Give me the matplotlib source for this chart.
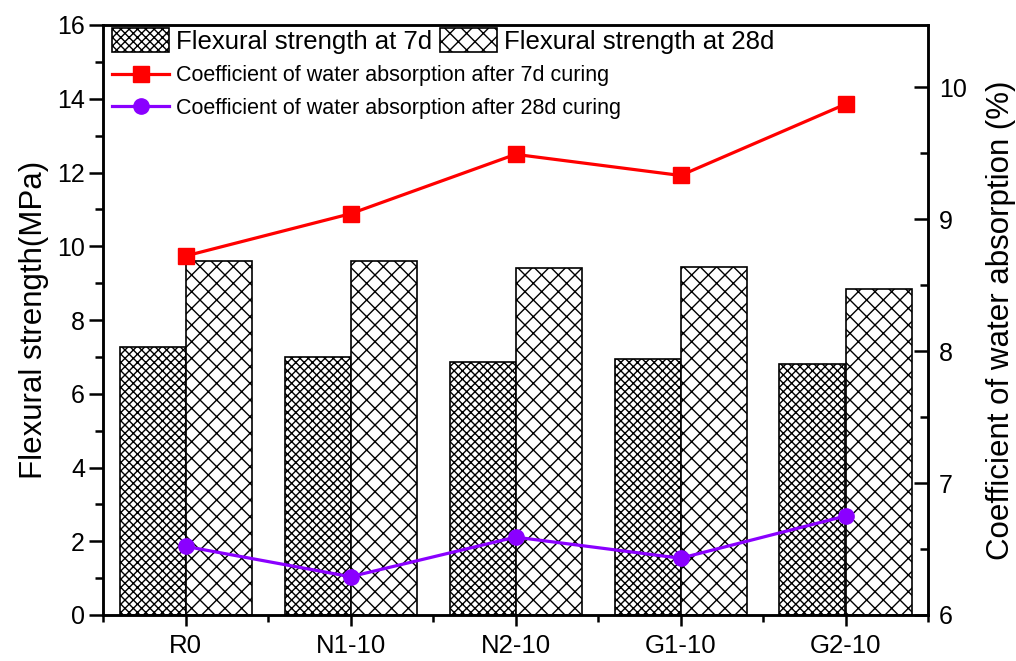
import matplotlib
matplotlib.use("Agg")
import matplotlib.pyplot as plt
import numpy as np
from matplotlib.ticker import MultipleLocator
from matplotlib.lines import Line2D
from matplotlib.patches import Patch

plt.rcParams['font.family'] = ['Liberation Sans', 'DejaVu Sans']
plt.rcParams['hatch.linewidth'] = 1.0

# ---------- data ----------
samples = ["R0", "N1-10", "N2-10", "G1-10", "G2-10"]
flex_7d = [7.26, 7.00, 6.86, 6.93, 6.82]
flex_28d = [9.61, 9.59, 9.40, 9.45, 8.83]
absorb_7d = [8.72, 9.04, 9.49, 9.33, 9.87]
absorb_28d = [6.52, 6.29, 6.59, 6.43, 6.75]

red = "#ff0000"
purple = "#8a00ff"

x = np.arange(len(samples))
w = 0.4

fig = plt.figure(figsize=(10.16, 6.61), dpi=100)
ax = fig.add_axes([103/1016, 1 - 615/661, 825/1016, 590/661])
ax2 = ax.twinx()

ax.bar(x - w/2, flex_7d, width=w, facecolor="white", edgecolor="black",
       hatch="xxxx", linewidth=1.2)
ax.bar(x + w/2, flex_28d, width=w, facecolor="white", edgecolor="black",
       hatch="xx", linewidth=1.2)

ax2.plot(x, absorb_7d, color=red, lw=2.3, marker="s", ms=11, zorder=5)
ax2.plot(x, absorb_28d, color=purple, lw=2.3, marker="o", ms=11, zorder=5)

# ---------- axes ----------
ax.set_xlim(-0.5, 4.5)
ax.set_ylim(0, 16)
ax2.set_ylim(6, 10.47)

ax.set_xticks(x)
ax.set_xticklabels(samples)
ax.xaxis.set_minor_locator(MultipleLocator(0.5))
ax.yaxis.set_major_locator(MultipleLocator(2))
ax.yaxis.set_minor_locator(MultipleLocator(1))
ax2.yaxis.set_major_locator(MultipleLocator(1))
ax2.yaxis.set_minor_locator(MultipleLocator(0.5))

for a in (ax, ax2):
    for s in a.spines.values():
        s.set_linewidth(1.8)

ax.tick_params(axis="x", which="major", direction="out", length=8, width=1.8,
               labelsize=18.5, pad=6)
ax.tick_params(axis="x", which="minor", direction="out", length=5, width=1.8)
ax.tick_params(axis="y", which="major", direction="out", length=10, width=1.8,
               labelsize=18, pad=3)
ax.tick_params(axis="y", which="minor", direction="out", length=6, width=1.8)
ax2.tick_params(axis="y", which="major", direction="in", length=10, width=1.8,
                labelsize=18, pad=8)
ax2.tick_params(axis="y", which="minor", direction="in", length=6, width=1.8)

ax.set_ylabel("Flexural strength(MPa)", fontsize=22.5, labelpad=6)
ax2.set_ylabel("Coefficient of water absorption (%)", fontsize=22.5, labelpad=14)

# ---------- legends ----------
bar_handles = [
    Patch(facecolor="white", edgecolor="black", hatch="xxxx", linewidth=1.2),
    Patch(facecolor="white", edgecolor="black", hatch="xx", linewidth=1.2),
]
leg1 = ax2.legend(bar_handles, ["Flexural strength at 7d", "Flexural strength at 28d"],
                  ncol=2, loc="upper left", bbox_to_anchor=(0.011, 0.995),
                  frameon=False, fontsize=18.5, borderpad=0, borderaxespad=0,
                  handlelength=2.2, handleheight=1.05, handletextpad=0.3,
                  columnspacing=0.3)
ax2.add_artist(leg1)

line_handles = [
    Line2D([], [], color=red, lw=2.3, marker="s", ms=11),
    Line2D([], [], color=purple, lw=2.3, marker="o", ms=11),
]
ax2.legend(line_handles, ["Coefficient of water absorption after 7d curing",
                          "Coefficient of water absorption after 28d curing"],
           loc="upper left", bbox_to_anchor=(0.011, 0.932), frameon=False,
           fontsize=15.5, borderpad=0, borderaxespad=0, handlelength=2.65,
           handletextpad=0.3, labelspacing=0.55)

fig.savefig("out.png", dpi=100)
